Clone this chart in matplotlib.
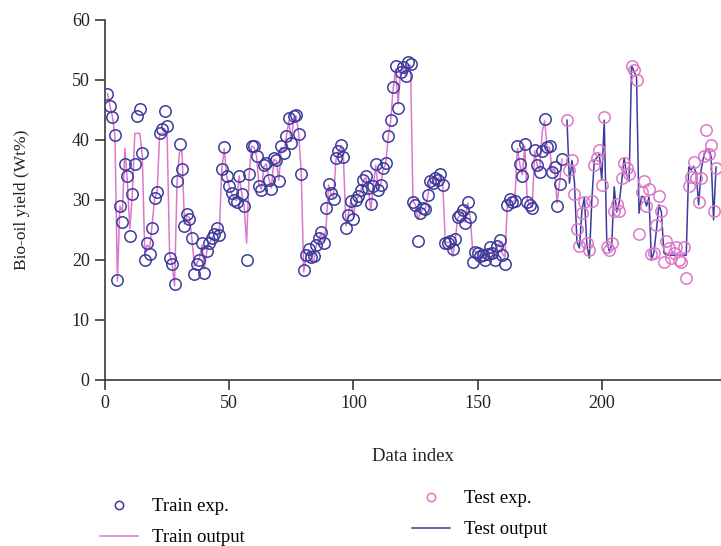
import numpy as np
import matplotlib
matplotlib.use("Agg")
import matplotlib.pyplot as plt
from matplotlib.lines import Line2D

# ---------------- data ----------------
train_exp = [
    47.7, 45.7, 43.8, 40.8, 16.7, 29.0, 26.4, 36.0, 34.0, 24.0,
    31.0, 36.0, 44.0, 45.2, 37.8, 20.0, 22.9, 21.0, 25.3, 30.3,
    31.3, 41.2, 41.8, 44.9, 42.3, 20.3, 19.3, 16.0, 33.2, 39.4,
    35.1, 25.6, 27.7, 26.8, 23.6, 17.7, 19.3, 20.0, 22.9, 17.8,
    21.5, 22.9, 23.6, 24.3, 25.3, 24.2, 35.1, 38.8, 34.0, 32.3,
    31.1, 30.0, 29.7, 34.0, 31.0, 29.0, 20.0, 34.3, 39.0, 39.0,
    37.3, 32.3, 31.6, 35.8, 36.2, 33.4, 31.9, 37.0, 36.6, 33.1,
    39.0, 37.9, 40.7, 43.6, 39.5, 44.0, 44.2, 41.0, 34.4, 18.4,
    20.8, 21.9, 20.5, 20.7, 22.5, 23.6, 24.6, 22.8, 28.6, 32.7,
    31.1, 30.1, 37.0, 38.1, 39.2, 37.1, 25.3, 27.5, 29.9, 26.9,
    30.0, 30.6, 31.6, 33.3, 34.0, 32.0, 29.3, 32.3, 36.0, 31.6,
    32.5, 35.3, 36.1, 40.6, 43.4, 48.8, 52.3, 45.4, 51.4, 52.2,
    50.6, 53.0, 52.7, 29.6, 29.2, 23.1, 27.8, 28.6, 28.5, 30.8,
    33.1, 32.9, 33.6, 33.3, 34.4, 32.5, 22.9, 22.9, 23.1, 21.9,
    23.5, 27.2, 27.5, 28.3, 26.1, 29.7, 27.2, 19.7, 21.4, 21.1,
    20.6, 20.8, 20.0, 21.0, 22.2, 21.1, 20.0, 22.3, 23.3, 20.8,
    19.3, 29.2, 30.1, 29.7, 29.9, 39.0, 36.0, 34.0, 39.3, 29.7,
    29.2, 28.6, 38.4, 35.8, 34.7, 38.1, 43.5, 38.8, 39.0, 34.7,
    35.5, 29.0, 32.7, 36.9,
]
train_out = [
    47.7, 45.7, 43.8, 40.8, 16.5, 29.0, 28.0, 38.6, 33.0, 25.2,
    31.0, 41.1, 41.1, 41.1, 37.5, 21.3, 22.5, 22.0, 26.0, 30.3,
    31.3, 41.1, 41.1, 41.1, 41.1, 21.0, 19.5, 15.7, 33.0, 38.0,
    38.1, 26.0, 27.5, 27.0, 23.5, 19.0, 19.5, 20.2, 22.5, 18.5,
    21.5, 22.7, 23.6, 24.3, 25.0, 24.4, 35.0, 38.5, 34.0, 32.3,
    31.1, 30.2, 29.9, 34.0, 31.2, 29.2, 22.8, 34.0, 39.0, 38.8,
    37.3, 32.5, 31.8, 35.6, 36.0, 33.5, 32.0, 36.8, 36.5, 33.3,
    38.8, 38.0, 40.5, 43.2, 39.8, 43.8, 44.0, 41.0, 34.6, 18.0,
    20.8, 21.6, 20.5, 19.6, 22.3, 23.5, 24.4, 23.0, 25.5, 32.5,
    31.1, 30.3, 36.8, 38.0, 39.0, 37.0, 25.7, 27.6, 29.8, 27.2,
    30.0, 30.6, 31.6, 33.2, 33.8, 32.0, 28.3, 32.3, 35.8, 31.8,
    32.5, 35.2, 36.0, 40.4, 43.2, 48.5, 51.8, 46.0, 51.2, 52.0,
    50.8, 52.6, 52.4, 29.8, 29.2, 26.8, 27.8, 28.6, 28.6, 30.8,
    33.0, 32.9, 33.5, 33.3, 34.2, 32.5, 23.0, 22.9, 23.0, 20.6,
    23.3, 27.0, 27.5, 28.2, 26.3, 29.5, 27.3, 21.8, 21.4, 21.1,
    20.7, 20.8, 20.3, 21.0, 22.0, 21.1, 20.3, 22.2, 23.0, 21.0,
    20.5, 29.2, 30.0, 29.7, 29.9, 38.6, 36.0, 34.2, 39.0, 29.9,
    29.3, 28.8, 38.2, 35.8, 34.9, 41.3, 43.2, 38.8, 38.8, 34.8,
    35.3, 29.5, 32.8, 36.8,
]
test_exp = [
    43.3, 35.0, 36.6, 31.0, 25.2, 22.3, 27.8, 29.6, 22.8, 21.7,
    29.9, 35.8, 37.0, 38.4, 32.5, 43.9, 22.1, 21.7, 22.9, 28.1,
    29.4, 28.1, 33.6, 36.1, 35.3, 34.4, 52.3, 51.7, 50.0, 24.4,
    31.4, 33.1, 29.0, 31.9, 21.0, 21.2, 25.8, 30.7, 28.1, 19.7,
    23.1, 22.0, 20.3, 21.2, 22.2, 20.0, 19.6, 22.1, 17.0, 32.3,
    33.8, 36.4, 33.6, 29.6, 33.6, 37.3, 41.7, 37.7, 39.2, 28.1,
    35.3,
]
test_out = [
    43.3, 32.8, 36.6, 33.0, 23.0, 22.0, 28.3, 30.4, 22.5, 20.3,
    30.0, 36.6, 37.0, 37.7, 33.3, 43.3, 23.3, 21.5, 22.5, 32.2,
    28.0, 29.5, 33.0, 37.0, 34.2, 33.1, 52.4, 51.4, 50.5, 27.8,
    30.6, 30.5, 29.0, 30.5, 20.0, 21.3, 25.0, 29.2, 28.0, 21.2,
    20.8, 20.8, 20.8, 20.8, 20.8, 20.8, 20.8, 20.8, 20.8, 35.5,
    35.0, 35.6, 34.5, 29.2, 35.0, 37.2, 38.5, 38.5, 37.3, 26.7,
    35.5,
]
train_start = 1
test_start = 186
x_ticks = [0, 50, 100, 150, 200]
y_ticks = [0, 10, 20, 30, 40, 50, 60]

train_x = np.arange(train_start, train_start + len(train_exp))
test_x = np.arange(test_start, test_start + len(test_exp))

# ---------------- style ----------------
plt.rcParams['font.family'] = ['Liberation Serif', 'DejaVu Serif']
blue = '#3b3b9c'
pink = '#dc78c9'
axis_col = '#3a3a3a'

fig = plt.figure(figsize=(7.21, 5.46), dpi=100)
ax = fig.add_axes([105/721, 1 - 380/546, (721 - 105)/721, (380 - 20)/546])

ax.plot(train_x, train_out, color=pink, lw=1.1, zorder=2)
ax.plot(train_x, train_exp, ls='none', marker='o', ms=8.2, mfc='none',
        mec=blue, mew=1.1, zorder=3)
ax.plot(test_x, test_out, color=blue, lw=1.1, zorder=2)
ax.plot(test_x, test_exp, ls='none', marker='o', ms=8.2, mfc='none',
        mec=pink, mew=1.1, zorder=3)

ax.set_xlim(0, 248)
ax.set_ylim(0, 60)
ax.set_xticks(x_ticks)
ax.set_yticks(y_ticks)
for s in ['top', 'right']:
    ax.spines[s].set_visible(False)
for s in ['left', 'bottom']:
    ax.spines[s].set_color(axis_col)
    ax.spines[s].set_linewidth(1.2)
ax.tick_params(axis='both', direction='out', length=7, width=1.2,
               colors=axis_col, labelsize=13, labelcolor='#222222', pad=4)

ax.set_xlabel('Data index', fontsize=13.5, color='#222222', labelpad=26)
ax.set_ylabel('Bio-oil yield (Wt%)', fontsize=12.5, color='#222222', labelpad=30)

h1 = [Line2D([], [], ls='none', marker='o', ms=6, mfc='none', mec=blue, mew=1.1),
      Line2D([], [], color=pink, lw=1.1)]
h2 = [Line2D([], [], ls='none', marker='o', ms=6, mfc='none', mec=pink, mew=1.1),
      Line2D([], [], color=blue, lw=1.1)]
fig.legend(h1, ['Train exp.', 'Train output'], loc='upper left',
           bbox_to_anchor=(100/721, 1 - 498/546), frameon=False,
           fontsize=13.5, labelspacing=0.75, handlelength=2.0,
           handletextpad=0.8, borderpad=0, borderaxespad=0)
fig.legend(h2, ['Test exp.', 'Test output'], loc='upper left',
           bbox_to_anchor=(412/721, 1 - 490/546), frameon=False,
           fontsize=13.5, labelspacing=0.75, handlelength=2.0,
           handletextpad=0.8, borderpad=0, borderaxespad=0)

fig.savefig('out.png', dpi=100)
